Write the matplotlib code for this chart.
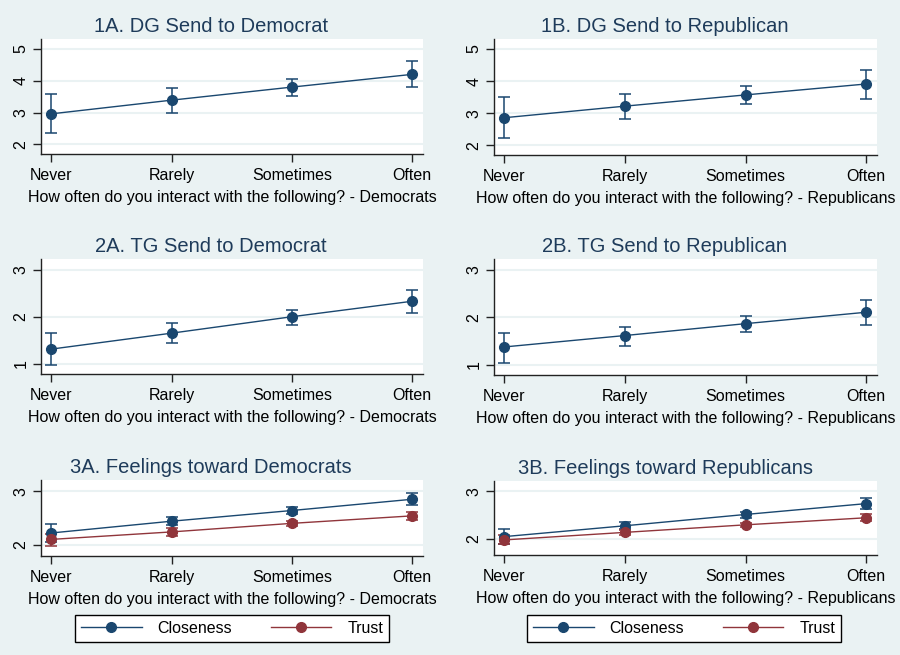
import numpy as np
import matplotlib
matplotlib.use('Agg')
import matplotlib.pyplot as plt
from matplotlib.lines import Line2D

plt.rcParams['font.family'] = ['Liberation Sans', 'DejaVu Sans']

# response categories on the x axis
categories = ['Never', 'Rarely', 'Sometimes', 'Often']

# DG send amounts (mean, lower CI, upper CI)
dg_dem = [2.96, 3.39, 3.80, 4.20]
dg_dem_lo = [2.35, 3.00, 3.52, 3.80]
dg_dem_hi = [3.57, 3.77, 4.04, 4.61]
dg_rep = [2.86, 3.22, 3.57, 3.91]
dg_rep_lo = [2.22, 2.83, 3.29, 3.45]
dg_rep_hi = [3.51, 3.60, 3.84, 4.36]

# TG send amounts
tg_dem = [1.31, 1.65, 2.00, 2.33]
tg_dem_lo = [0.98, 1.44, 1.82, 2.08]
tg_dem_hi = [1.65, 1.86, 2.15, 2.57]
tg_rep = [1.38, 1.62, 1.87, 2.11]
tg_rep_lo = [1.05, 1.41, 1.70, 1.85]
tg_rep_hi = [1.68, 1.81, 2.03, 2.37]

# feelings: closeness and trust
close_dem = [2.22, 2.44, 2.64, 2.85]
close_dem_lo = [2.05, 2.36, 2.58, 2.74]
close_dem_hi = [2.38, 2.52, 2.70, 2.97]
trust_dem = [2.10, 2.24, 2.40, 2.54]
trust_dem_lo = [1.98, 2.17, 2.35, 2.47]
trust_dem_hi = [2.21, 2.31, 2.44, 2.61]
close_rep = [2.04, 2.27, 2.51, 2.74]
close_rep_lo = [1.89, 2.20, 2.44, 2.62]
close_rep_hi = [2.20, 2.35, 2.57, 2.86]
trust_rep = [1.97, 2.13, 2.29, 2.44]
trust_rep_lo = [1.88, 2.08, 2.24, 2.37]
trust_rep_hi = [2.07, 2.19, 2.33, 2.52]

navy = '#1a476f'
maroon = '#90353b'
bg = '#eaf2f3'
title_col = '#1e3b5a'

fig = plt.figure(figsize=(9, 6.55), dpi=100)
fig.patch.set_facecolor(bg)

W, H = 900, 655


def make_ax(left, top, right, bottom):
    return fig.add_axes([left / W, 1 - bottom / H, (right - left) / W, (bottom - top) / H])


def draw(ax, y, lo, hi, color):
    x = np.arange(len(categories))
    y = np.array(y)
    err = [y - np.array(lo), np.array(hi) - y]
    ax.errorbar(x, y, yerr=err, fmt='none', ecolor=color, elinewidth=1.1,
                capsize=4, capthick=1.1, zorder=3)
    ax.plot(x, y, color=color, lw=1.0, marker='o', ms=7, zorder=4)


def style(ax, ylim, yticks, title, xlabel, title_x):
    ax.set_facecolor('white')
    ax.set_xlim(-0.085, 3.09)
    ax.set_ylim(*ylim)
    ax.set_xticks(range(4))
    ax.set_xticklabels(categories, fontsize=11.5)
    ax.set_yticks(yticks)
    ax.set_yticklabels([str(t) for t in yticks], rotation=90, va='center', fontsize=11.5)
    for t in ax.get_yticks():
        ax.axhline(t, color=bg, lw=1.5, zorder=1)
    for s in ['top', 'right']:
        ax.spines[s].set_visible(False)
    for s in ['left', 'bottom']:
        ax.spines[s].set_color('#222222')
        ax.spines[s].set_linewidth(1.0)
    ax.tick_params(axis='both', length=6, width=1.0, color='#222222', pad=3)
    ax.tick_params(axis='x', pad=4)
    ax.set_xlabel(xlabel, fontsize=11.5, labelpad=5)
    bb = ax.get_position()
    fig.text(title_x / W, bb.y1 + 7 / H, title, ha='center', va='baseline',
             fontsize=14.5, color=title_col)


lx = (41, 423)
rx = (494, 877)
dem_lab = 'How often do you interact with the following? - Democrats'
rep_lab = 'How often do you interact with the following? - Republicans'

ax = make_ax(lx[0], 39, lx[1], 154)
draw(ax, dg_dem, dg_dem_lo, dg_dem_hi, navy)
style(ax, (1.7, 5.31), [2, 3, 4, 5], '1A. DG Send to Democrat', dem_lab, 211)

ax = make_ax(rx[0], 39, rx[1], 155)
draw(ax, dg_rep, dg_rep_lo, dg_rep_hi, navy)
style(ax, (1.7, 5.31), [2, 3, 4, 5], '1B. DG Send to Republican', rep_lab, 665)

ax = make_ax(lx[0], 259, lx[1], 374)
draw(ax, tg_dem, tg_dem_lo, tg_dem_hi, navy)
style(ax, (0.78, 3.23), [1, 2, 3], '2A. TG Send to Democrat', dem_lab, 211)

ax = make_ax(rx[0], 259, rx[1], 375)
draw(ax, tg_rep, tg_rep_lo, tg_rep_hi, navy)
style(ax, (0.79, 3.23), [1, 2, 3], '2B. TG Send to Republican', rep_lab, 665)

handles = [Line2D([], [], color=navy, lw=1.0, marker='o', ms=7),
           Line2D([], [], color=maroon, lw=1.0, marker='o', ms=7)]

ax = make_ax(lx[0], 480, lx[1], 556)
draw(ax, close_dem, close_dem_lo, close_dem_hi, navy)
draw(ax, trust_dem, trust_dem_lo, trust_dem_hi, maroon)
style(ax, (1.79, 3.21), [2, 3], '3A. Feelings toward Democrats', dem_lab, 211)
fig.legend(handles, ['Closeness', 'Trust'], loc='center',
           bbox_to_anchor=(232 / W, 1 - 628.5 / H), ncol=2, fontsize=11.5,
           frameon=True, fancybox=False, edgecolor='black', framealpha=1,
           handlelength=3.8, handletextpad=1.0, columnspacing=2.4,
           borderpad=0.4)

ax = make_ax(rx[0], 481, rx[1], 555)
draw(ax, close_rep, close_rep_lo, close_rep_hi, navy)
draw(ax, trust_rep, trust_rep_lo, trust_rep_hi, maroon)
style(ax, (1.65, 3.22), [2, 3], '3B. Feelings toward Republicans', rep_lab, 665)
fig.legend(handles, ['Closeness', 'Trust'], loc='center',
           bbox_to_anchor=(684 / W, 1 - 628.5 / H), ncol=2, fontsize=11.5,
           frameon=True, fancybox=False, edgecolor='black', framealpha=1,
           handlelength=3.8, handletextpad=1.0, columnspacing=2.4,
           borderpad=0.4)

fig.savefig('out.png', dpi=100, facecolor=bg)
